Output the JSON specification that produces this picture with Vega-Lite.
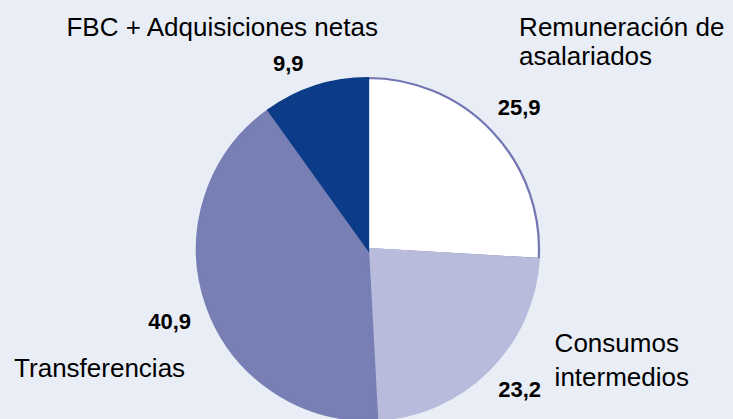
{
  "$schema": "https://vega.github.io/schema/vega-lite/v6.json",
  "autosize": "none",
  "width": 730,
  "height": 338,
  "padding": {"left": 3, "top": 80, "right": 0, "bottom": 1},
  "background": "#E9EDF5",
  "config": {
    "view": {"stroke": null},
    "locale": {"number": {"decimal": ",", "thousands": ".", "grouping": [3], "currency": ["", " €"]}},
    "text": {"font": "Liberation Sans", "fill": "#000000"}
  },
  "data": {
    "values": [
      {"orden": 1, "categoria": "Remuneración de asalariados", "nombre": "Remuneración de\nasalariados", "valor": 25.9},
      {"orden": 2, "categoria": "Consumos intermedios", "nombre": "Consumos\nintermedios", "valor": 23.2},
      {"orden": 3, "categoria": "Transferencias", "nombre": "Transferencias", "valor": 40.9},
      {"orden": 4, "categoria": "FBC + Adquisiciones netas", "nombre": "FBC + Adquisiciones netas", "valor": 9.9}
    ]
  },
  "encoding": {
    "theta": {"field": "valor", "type": "quantitative", "stack": true},
    "order": {"field": "orden", "type": "quantitative", "sort": "ascending"}
  },
  "layer": [
    {
      "mark": {"type": "arc", "outerRadius": 171, "strokeWidth": 2.2},
      "encoding": {
        "color": {"field": "categoria", "type": "nominal", "legend": null,
          "scale": {"domain": ["Remuneración de asalariados", "Consumos intermedios", "Transferencias", "FBC + Adquisiciones netas"],
                    "range": ["#FFFFFF", "#B8BBDC", "#777FB5", "#0C3C87"]}},
        "stroke": {"field": "categoria", "type": "nominal", "legend": null,
          "scale": {"domain": ["Remuneración de asalariados", "Consumos intermedios", "Transferencias", "FBC + Adquisiciones netas"],
                    "range": ["#7276B2", "#B8BBDC", "#777FB5", "#0C3C87"]}}
      }
    },
    {
      "mark": {"type": "text", "radius": 205, "fontSize": 22, "fontWeight": "bold", "align": "center", "baseline": "middle", "dx": 2, "dy": 0},
      "encoding": {"text": {"field": "valor", "type": "quantitative", "format": ".1f"},
        "opacity": {"condition": {"test": "datum.orden === 1", "value": 1}, "value": 0}}
    },
    {
      "mark": {"type": "text", "radius": 205, "fontSize": 22, "fontWeight": "bold", "align": "center", "baseline": "middle", "dx": 7, "dy": -4},
      "encoding": {"text": {"field": "valor", "type": "quantitative", "format": ".1f"},
        "opacity": {"condition": {"test": "datum.orden === 2", "value": 1}, "value": 0}}
    },
    {
      "mark": {"type": "text", "radius": 205, "fontSize": 22, "fontWeight": "bold", "align": "center", "baseline": "middle", "dx": -5, "dy": 5},
      "encoding": {"text": {"field": "valor", "type": "quantitative", "format": ".1f"},
        "opacity": {"condition": {"test": "datum.orden === 3", "value": 1}, "value": 0}}
    },
    {
      "mark": {"type": "text", "radius": 205, "fontSize": 22, "fontWeight": "bold", "align": "center", "baseline": "middle", "dx": -17, "dy": 10},
      "encoding": {"text": {"field": "valor", "type": "quantitative", "format": ".1f"},
        "opacity": {"condition": {"test": "datum.orden === 4", "value": 1}, "value": 0}}
    },
    {
      "mark": {"type": "text", "radius": 205, "fontSize": 26, "align": "left", "baseline": "middle", "lineBreak": "\n", "lineHeight": 29, "dx": 2, "dy": -80},
      "encoding": {"text": {"field": "nombre", "type": "nominal"},
        "opacity": {"condition": {"test": "datum.orden === 1", "value": 1}, "value": 0}}
    },
    {
      "mark": {"type": "text", "radius": 205, "fontSize": 26, "align": "left", "baseline": "middle", "lineBreak": "\n", "lineHeight": 34, "dx": 42, "dy": -50},
      "encoding": {"text": {"field": "nombre", "type": "nominal"},
        "opacity": {"condition": {"test": "datum.orden === 2", "value": 1}, "value": 0}}
    },
    {
      "mark": {"type": "text", "radius": 205, "fontSize": 26, "align": "center", "baseline": "middle", "dx": -75, "dy": 52},
      "encoding": {"text": {"field": "nombre", "type": "nominal"},
        "opacity": {"condition": {"test": "datum.orden === 3", "value": 1}, "value": 0}}
    },
    {
      "mark": {"type": "text", "radius": 205, "fontSize": 26, "align": "center", "baseline": "middle", "dx": -83, "dy": -26},
      "encoding": {"text": {"field": "nombre", "type": "nominal"},
        "opacity": {"condition": {"test": "datum.orden === 4", "value": 1}, "value": 0}}
    }
  ]
}
